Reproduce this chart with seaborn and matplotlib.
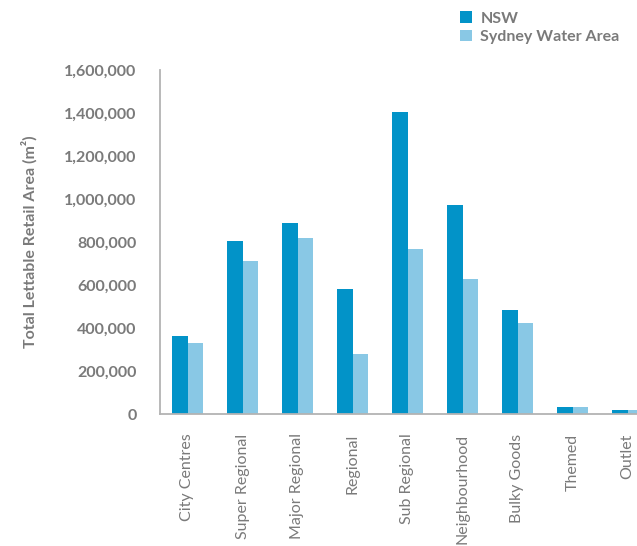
import matplotlib
matplotlib.use("Agg")
import matplotlib.pyplot as plt
import matplotlib.ticker as mticker
import seaborn as sns
import pandas as pd

categories = ["City Centres", "Super Regional", "Major Regional", "Regional",
              "Sub Regional", "Neighbourhood", "Bulky Goods", "Themed", "Outlet"]
nsw = [364000, 806000, 890000, 583000, 1405000, 973000, 485000, 34000, 20000]
sydney_water = [332000, 713000, 820000, 280000, 769000, 629000, 425000, 34000, 20000]
series_names = ["NSW", "Sydney Water Area"]
y_ticks = [0, 200000, 400000, 600000, 800000, 1000000, 1200000, 1400000, 1600000]

df = pd.DataFrame({
    "Category": categories * 2,
    "Series": [series_names[0]] * len(categories) + [series_names[1]] * len(categories),
    "Area": nsw + sydney_water,
})

sns.set_theme(style="white")
plt.rcParams["font.family"] = ["Lato", "DejaVu Sans"]

text_grey = "#7a7a7a"
axis_grey = "#b3b3b3"
palette = {"NSW": "#0293c8", "Sydney Water Area": "#89c8e5"}

fig = plt.figure(figsize=(6.37, 5.46), dpi=100)
ax = fig.add_axes([160 / 637, 132 / 546, 495 / 637, 344 / 546])

sns.barplot(data=df, x="Category", y="Area", hue="Series", order=categories,
            hue_order=series_names, palette=palette, width=0.56, gap=0,
            saturation=1, linewidth=0, ax=ax, legend=True)

ax.set_xlim(-0.5, len(categories) - 0.5)
ax.set_ylim(0, 1600000)
ax.set_yticks(y_ticks)
ax.yaxis.set_major_formatter(mticker.FuncFormatter(lambda v, p: f"{int(v):,}"))

for side in ["top", "right"]:
    ax.spines[side].set_visible(False)
for side in ["left", "bottom"]:
    ax.spines[side].set_color(axis_grey)
    ax.spines[side].set_linewidth(1.3)

ax.tick_params(axis="y", direction="out", length=4, width=1, color=axis_grey,
               labelcolor=text_grey, labelsize=11.5, pad=13)
for lbl in ax.get_yticklabels():
    lbl.set_fontweight("bold")

# category labels centred, ticks drawn at the boundaries between groups
ax.set_xticks(range(len(categories)))
ax.set_xticklabels(categories, rotation=90, color=text_grey, fontsize=11.5)
ax.tick_params(axis="x", which="major", length=0, pad=14)
ax.set_xticks([i - 0.5 for i in range(len(categories) + 1)], minor=True)
ax.tick_params(axis="x", which="minor", direction="out", length=5, width=1,
               color=axis_grey)

ax.set_xlabel("")
ax.set_ylabel("Total Lettable Retail Area (m²)", color=text_grey, fontsize=11.5,
              fontweight="bold", labelpad=19)

handles, labels = ax.get_legend_handles_labels()
ax.legend(handles, labels, loc="upper left", bbox_to_anchor=(446 / 637, 1 + 3 / 546),
          bbox_transform=fig.transFigure, frameon=False, handlelength=0.75,
          handleheight=0.75, handletextpad=0.5, labelspacing=0.25,
          prop={"weight": "bold", "size": 11.5}, labelcolor=text_grey)

fig.savefig("out.png", dpi=100)
